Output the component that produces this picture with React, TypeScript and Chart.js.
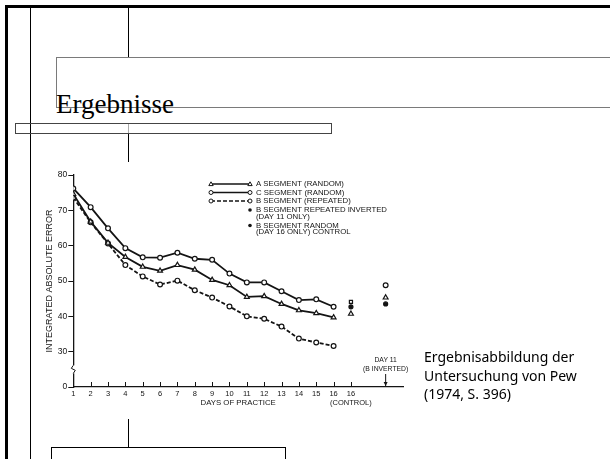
import React, { useEffect, useRef } from 'react';
import { Chart, registerables } from 'chart.js';

Chart.register(...registerables);

// ---------- data ----------
const days = [1, 2, 3, 4, 5, 6, 7, 8, 9, 10, 11, 12, 13, 14, 15, 16];
const cSegmentRandom = [76.2, 70.9, 64.9, 59.3, 56.7, 56.6, 58.0, 56.3, 56.0, 52.1, 49.6, 49.6, 47.1, 44.6, 44.8, 42.7];
const aSegmentRandom = [74.6, 66.8, 60.8, 56.8, 54.0, 52.9, 54.5, 53.2, 50.3, 48.8, 45.5, 45.7, 43.5, 41.7, 40.9, 39.7];
const bSegmentRepeated = [73.6, 66.6, 60.6, 54.5, 51.3, 49.0, 50.1, 47.4, 45.3, 42.8, 40.0, 39.3, 37.1, 33.7, 32.6, 31.6];

const controlDay = 17; // "16 (CONTROL)"
const invertedDay = 19; // "DAY 11 (B INVERTED)"
const controlC = [44.1];
const controlA = [40.7];
const controlBRandom = [42.7];
const invertedC = [48.8];
const invertedA = [45.3];
const invertedBRepeated = [43.5];

const dayTickLabels = ['1', '2', '3', '4', '5', '6', '7', '8', '9', '10', '11', '12', '13', '14', '15', '16'];
const controlTickLabel = ['16', '(CONTROL)'];
const invertedLabel = ['DAY 11', '(B INVERTED)'];
const yTickValues = [20, 30, 40, 50, 60, 70, 80];
const yTickLabels = ['0', '30', '40', '50', '60', '70', '80'];
const yBreakValue = 25;

const legendLabels = [
  ['A SEGMENT (RANDOM)'],
  ['C SEGMENT (RANDOM)'],
  ['B SEGMENT (REPEATED)'],
  ['B SEGMENT REPEATED INVERTED', '(DAY 11 ONLY)'],
  ['B SEGMENT RANDOM', '(DAY 16 ONLY) CONTROL'],
];

const INK = '#141414';
const FONT = '"Liberation Sans", Arial, sans-serif';

const pts = (xs: number[], ys: number[]) => xs.map((x, i) => ({ x, y: ys[i] }));

// ---------- custom drawing: inner ticks, axis break, legend, arrow note ----------
const extrasPlugin = {
  id: 'extras',
  afterDraw(chart: any) {
    const { ctx, chartArea } = chart;
    const x = chart.scales.x;
    const y = chart.scales.y;
    ctx.save();
    ctx.strokeStyle = INK;
    ctx.fillStyle = INK;
    ctx.lineWidth = 1;

    // inner tick marks on the x axis
    [...days, controlDay].forEach((d) => {
      const px = Math.round(x.getPixelForValue(d)) + 0.5;
      ctx.beginPath();
      ctx.moveTo(px, chartArea.bottom);
      ctx.lineTo(px, chartArea.bottom - 5);
      ctx.stroke();
    });

    // axis break
    const yb = y.getPixelForValue(yBreakValue);
    const ax = chartArea.left;
    ctx.fillStyle = '#fff';
    ctx.fillRect(ax - 2, yb - 4, 4, 8);
    ctx.fillStyle = INK;
    ctx.beginPath();
    ctx.moveTo(ax, yb - 4);
    ctx.lineTo(ax - 2, yb - 1);
    ctx.lineTo(ax + 2, yb + 1);
    ctx.lineTo(ax, yb + 4);
    ctx.stroke();

    // "DAY 11 (B INVERTED)" note with arrow
    const ix = x.getPixelForValue(invertedDay);
    ctx.font = `6.8px ${FONT}`;
    ctx.textAlign = 'center';
    ctx.textBaseline = 'middle';
    ctx.fillText(invertedLabel[0], ix, chartArea.bottom - 27);
    ctx.fillText(invertedLabel[1], ix, chartArea.bottom - 18);
    ctx.beginPath();
    ctx.moveTo(ix, chartArea.bottom - 13);
    ctx.lineTo(ix, chartArea.bottom - 1);
    ctx.stroke();
    ctx.beginPath();
    ctx.moveTo(ix - 2, chartArea.bottom - 5);
    ctx.lineTo(ix, chartArea.bottom - 1);
    ctx.lineTo(ix + 2, chartArea.bottom - 5);
    ctx.closePath();
    ctx.fill();

    // legend
    const lx0 = 191;
    const lx1 = 230;
    const tx = 236;
    const rows = [24, 32.5, 41, 50, 65.5];
    ctx.font = `7.8px ${FONT}`;
    ctx.textAlign = 'left';
    legendLabels.forEach((lines, i) => {
      const ry = rows[i];
      ctx.lineWidth = 1.5;
      ctx.strokeStyle = INK;
      if (i < 3) {
        ctx.setLineDash(i === 2 ? [4, 2] : []);
        ctx.beginPath();
        ctx.moveTo(lx0, ry);
        ctx.lineTo(lx1, ry);
        ctx.stroke();
        ctx.setLineDash([]);
        ctx.lineWidth = 1;
        [lx0, lx1].forEach((mx) => {
          ctx.fillStyle = '#fff';
          ctx.beginPath();
          if (i === 0) {
            ctx.moveTo(mx, ry - 2.2);
            ctx.lineTo(mx - 2.2, ry + 1.6);
            ctx.lineTo(mx + 2.2, ry + 1.6);
            ctx.closePath();
          } else {
            ctx.arc(mx, ry, 2, 0, Math.PI * 2);
          }
          ctx.fill();
          ctx.stroke();
        });
      } else {
        ctx.fillStyle = INK;
        ctx.beginPath();
        ctx.arc(lx1, ry, 1.8, 0, Math.PI * 2);
        ctx.fill();
      }
      ctx.fillStyle = INK;
      lines.forEach((t, k) => ctx.fillText(t, tx, ry + k * 6.5));
    });
    ctx.restore();
  },
};

function ChartBox() {
  const ref = useRef<HTMLCanvasElement | null>(null);
  useEffect(() => {
    if (!ref.current) return;
    const lineStyle = {
      borderColor: INK,
      borderWidth: 1.8,
      pointBorderColor: INK,
      pointBackgroundColor: '#fff',
      pointBorderWidth: 1.2,
      pointRadius: 2.4,
      tension: 0,
      fill: false,
    };
    const markStyle = {
      showLine: false,
      pointBorderColor: INK,
      pointBackgroundColor: '#fff',
      pointBorderWidth: 1.2,
      pointRadius: 2.4,
    };
    const chart = new Chart(ref.current, {
      type: 'line',
      data: {
        datasets: [
          { label: 'C SEGMENT (RANDOM)', data: pts(days, cSegmentRandom), ...lineStyle, pointStyle: 'circle' },
          { label: 'A SEGMENT (RANDOM)', data: pts(days, aSegmentRandom), ...lineStyle, pointStyle: 'triangle', pointRadius: 2.8 },
          { label: 'B SEGMENT (REPEATED)', data: pts(days, bSegmentRepeated), ...lineStyle, borderDash: [4, 2], pointStyle: 'circle' },
          { label: 'C control', data: pts([controlDay], controlC), ...markStyle, pointStyle: 'rect', pointRadius: 2.2 },
          { label: 'A control', data: pts([controlDay], controlA), ...markStyle, pointStyle: 'triangle', pointRadius: 2.8 },
          { label: 'B SEGMENT RANDOM (DAY 16 ONLY) CONTROL', data: pts([controlDay], controlBRandom), ...markStyle, pointBackgroundColor: INK, pointRadius: 2 },
          { label: 'C day 11', data: pts([invertedDay], invertedC), ...markStyle, pointStyle: 'circle' },
          { label: 'A day 11', data: pts([invertedDay], invertedA), ...markStyle, pointStyle: 'triangle', pointRadius: 2.8 },
          { label: 'B SEGMENT REPEATED INVERTED (DAY 11 ONLY)', data: pts([invertedDay], invertedBRepeated), ...markStyle, pointBackgroundColor: INK, pointRadius: 2 },
        ] as any,
      },
      options: {
        animation: false,
        responsive: false,
        layout: { padding: { top: 15, right: 27, left: 0, bottom: 0 } },
        plugins: { legend: { display: false }, tooltip: { enabled: false } },
        scales: {
          x: {
            type: 'linear',
            min: 1,
            max: 20,
            afterFit: (s: any) => { s.height = 33; },
            grid: { display: false, drawTicks: false },
            border: { display: true, color: INK, width: 1.3 },
            ticks: {
              stepSize: 1,
              autoSkip: false,
              maxRotation: 0,
              padding: 2,
              color: INK,
              font: { family: FONT, size: 7.5 },
              callback: (v: any) => {
                if (v >= 1 && v <= 16) return dayTickLabels[v - 1];
                if (v === controlDay) return controlTickLabel;
                return '';
              },
            },
            title: {
              display: true,
              text: 'DAYS OF PRACTICE',
              color: INK,
              font: { family: FONT, size: 7.8 },
              padding: { top: 0, bottom: 12 },
            },
          },
          y: {
            type: 'linear',
            min: 20,
            max: 80,
            afterFit: (s: any) => { s.width = 53.3; },
            afterBuildTicks: (s: any) => { s.ticks = yTickValues.map((v) => ({ value: v })); },
            grid: { display: true, drawOnChartArea: false, drawTicks: true, tickLength: 5, color: INK, lineWidth: 1 },
            border: { display: true, color: INK, width: 1.3 },
            ticks: {
              padding: 1,
              color: INK,
              font: { family: FONT, size: 8.5 },
              callback: (v: any) => yTickLabels[yTickValues.indexOf(v)] ?? '',
            },
            title: {
              display: true,
              text: 'INTEGRATED ABSOLUTE ERROR',
              color: INK,
              font: { family: FONT, size: 9 },
              padding: { top: 24.6, bottom: 0 },
            },
          },
        },
      } as any,
      plugins: [extrasPlugin],
    });
    return () => chart.destroy();
  }, []);
  return (
    <canvas
      ref={ref}
      width={410}
      height={260}
      style={{ position: 'absolute', left: 20, top: 160, width: 410, height: 260 }}
    />
  );
}

export default function App() {
  const line = (s: React.CSSProperties) => <div style={{ position: 'absolute', background: '#000', ...s }} />;
  return (
    <div
      style={{
        position: 'absolute',
        left: 0,
        top: 0,
        width: 610,
        height: 459,
        overflow: 'hidden',
        background: '#fff',
      }}
    >
      {/* slide frame */}
      {line({ left: 5, top: 5, width: 610, height: 3 })}
      {line({ left: 5, top: 5, width: 3, height: 460 })}
      {line({ left: 30, top: 8, width: 1, height: 460 })}
      {line({ left: 128, top: 8, width: 1, height: 49 })}
      {line({ left: 128, top: 124, width: 1, height: 10, background: '#aaa' })}
      {line({ left: 128, top: 134, width: 1, height: 28 })}
      {line({ left: 128, top: 419, width: 1, height: 28 })}
      <div style={{ position: 'absolute', left: 56, top: 57, width: 600, height: 51, boxSizing: 'border-box', border: '1px solid #7a7a7a' }} />
      <div style={{ position: 'absolute', left: 15, top: 123, width: 317, height: 11, boxSizing: 'border-box', border: '1px solid #444' }} />
      <div style={{ position: 'absolute', left: 51, top: 447, width: 235, height: 30, boxSizing: 'border-box', border: '1px solid #000' }} />
      <div
        style={{
          position: 'absolute',
          left: 56,
          top: 91,
          fontFamily: '"Liberation Serif", "Times New Roman", serif',
          fontSize: 27,
          lineHeight: '27px',
          color: '#000',
        }}
      >
        Ergebnisse
      </div>
      <ChartBox />
      <div
        style={{
          position: 'absolute',
          left: 424,
          top: 348,
          fontFamily: '"Noto Sans", "DejaVu Sans", sans-serif',
          fontSize: 14,
          lineHeight: '18.5px',
          color: '#000',
        }}
      >
        Ergebnisabbildung der
        <br />
        Untersuchung von Pew
        <br />
        (1974, S. 396)
      </div>
    </div>
  );
}
